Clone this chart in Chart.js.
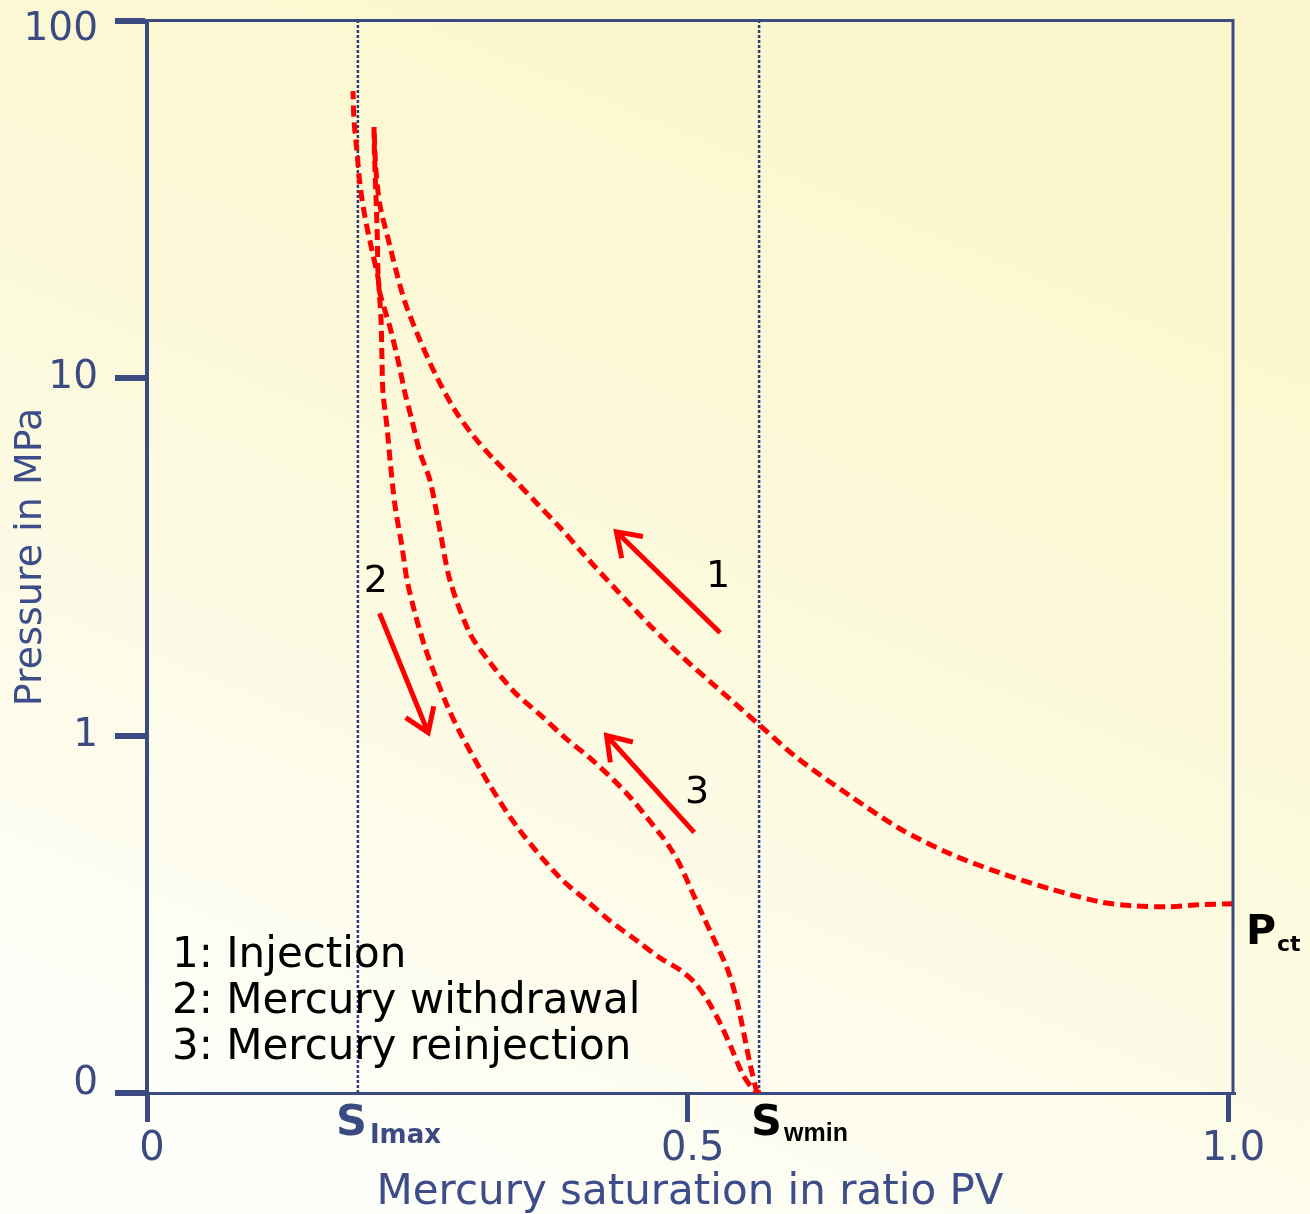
<!DOCTYPE html>
<html><head><meta charset="utf-8">
<script src="https://cdn.jsdelivr.net/npm/chart.js@4.4.1/dist/chart.umd.min.js"></script>
<style>html,body{margin:0;padding:0;background:#fdfbe6;}canvas{display:block;}</style>
</head><body>
<canvas id="c" width="1310" height="1214"></canvas>
<script>
// ---- axes ----
const xTicks = [0, 0.5, 1.0];
const xTickLabels = ['0', '0.5', '1.0'];
const yTicks = [0.1, 1, 10, 100];
const yTickLabels = ['0', '1', '10', '100'];
const xTitle = 'Mercury saturation in ratio PV';
const yTitle = 'Pressure in MPa';

// ---- curve 1: injection (from Pct up to max pressure) ----
const injectionX = [1.0042, 0.9736, 0.9431, 0.9117, 0.8812, 0.8349, 0.7887, 0.7425, 0.6963, 0.6500, 0.6010, 0.5650, 0.5270, 0.4956, 0.4651, 0.4346, 0.4031, 0.3819, 0.3606, 0.3403, 0.3199, 0.3014, 0.2848, 0.2681, 0.2524, 0.2386, 0.2302, 0.2228, 0.2154, 0.2117, 0.2099];
const injectionP = [0.3384, 0.3363, 0.3319, 0.3341, 0.3427, 0.3727, 0.4132, 0.4672, 0.5490, 0.6790, 0.8677, 1.080, 1.363, 1.654, 2.033, 2.548, 3.235, 3.825, 4.466, 5.179, 5.969, 6.924, 8.137, 10.06, 12.78, 16.33, 20.07, 24.67, 30.52, 38.24, 50.48];

// ---- curve 2: mercury withdrawal (from max pressure down) ----
const withdrawalX = [0.2099, 0.2105, 0.2120, 0.2130, 0.2136, 0.2164, 0.2173, 0.2182, 0.2219, 0.2247, 0.2293, 0.2358, 0.2404, 0.2478, 0.2570, 0.2681, 0.2783, 0.2894, 0.3172, 0.3449, 0.3819, 0.4068, 0.4281, 0.4531, 0.4743, 0.4928, 0.5067, 0.5187, 0.5298, 0.5400, 0.5502, 0.5603, 0.5668];
const withdrawalP = [50.48, 41.0, 30.7, 24.5, 19.8, 14.6, 11.3, 9.12, 7.32, 5.92, 4.410, 3.38, 2.73, 2.20, 1.77, 1.43, 1.20, 1.02, 0.7244, 0.5420, 0.4002, 0.3449, 0.3032, 0.2666, 0.2389, 0.2211, 0.2033, 0.1810, 0.1571, 0.1345, 0.1138, 0.1026, 0.1];

// ---- curve 3: mercury reinjection (from Swmin up) ----
const reinjectionX = [0.5640, 0.5576, 0.5520, 0.5455, 0.5363, 0.5206, 0.5049, 0.4928, 0.4836, 0.4743, 0.4438, 0.4124, 0.3865, 0.3634, 0.3403, 0.3172, 0.2987, 0.2802, 0.2709, 0.2617, 0.2524, 0.2450, 0.2386, 0.2321, 0.2247, 0.2154, 0.2136, 0.2080, 0.2016, 0.1970, 0.1942, 0.1914, 0.1905];
const reinjectionP = [0.1, 0.1206, 0.1463, 0.1810, 0.2239, 0.2843, 0.3609, 0.4351, 0.4857, 0.5313, 0.6880, 0.8511, 0.9872, 1.145, 1.319, 1.602, 1.930, 2.717, 3.751, 5.179, 6.202, 7.626, 9.078, 11.23, 13.89, 17.30, 19.18, 22.83, 28.25, 34.70, 42.95, 52.81, 63.65];

// ---- reference saturations ----
const sImax = 0.195;
const sWmin = 0.566;
const pct = 0.3384;

// ---- annotations ----
const legendLines = ['1: Injection', '2: Mercury withdrawal', '3: Mercury reinjection'];
const curveNumbers = ['1', '2', '3'];
const curveNumberX = [0.528, 0.2117, 0.5086];
const curveNumberP = [2.60, 2.52, 0.649];
const arrowTailX = [0.530, 0.215, 0.506];
const arrowTailP = [1.94, 2.20, 0.536];
const arrowTipX = [0.434, 0.260, 0.425];
const arrowTipP = [3.72, 1.02, 1.0];

const AXIS = '#3b4a80';
const TITLE = '#3c4d8a';
const RED = '#fe0000';

const pts = (xs, ys) => xs.map((x, i) => ({x, y: ys[i]}));

const curveStyle = {
  showLine: true, pointRadius: 0, borderColor: RED, borderWidth: 5,
  borderDash: [11, 6], borderCapStyle: 'butt', tension: 0.3, fill: false
};
const vStyle = {
  showLine: true, pointRadius: 0, borderColor: '#2b3a7a', borderWidth: 2.5,
  borderDash: [3, 2], tension: 0, fill: false
};

const bgPlugin = {
  id: 'bg',
  beforeDraw(chart) {
    const ctx = chart.ctx;
    const g = ctx.createLinearGradient(900, 0, 400, chart.height);
    g.addColorStop(0, '#fbf6cb');
    g.addColorStop(0.55, '#fcfadf');
    g.addColorStop(1, '#fefefb');
    ctx.save(); ctx.fillStyle = g; ctx.fillRect(0, 0, chart.width, chart.height); ctx.restore();
  }
};

function drawArrow(ctx, x1, y1, x2, y2) {
  const ang = Math.atan2(y2 - y1, x2 - x1);
  const L = 27, a = Math.PI * 0.19;
  ctx.beginPath();
  ctx.moveTo(x1, y1); ctx.lineTo(x2, y2);
  ctx.moveTo(x2 - L * Math.cos(ang - a), y2 - L * Math.sin(ang - a));
  ctx.lineTo(x2, y2);
  ctx.lineTo(x2 - L * Math.cos(ang + a), y2 - L * Math.sin(ang + a));
  ctx.stroke();
}

const annoPlugin = {
  id: 'anno',
  afterDraw(chart) {
    const ctx = chart.ctx, xs = chart.scales.x, ys = chart.scales.y, ca = chart.chartArea;
    ctx.save();
    // top and right frame
    ctx.strokeStyle = AXIS; ctx.lineWidth = 3;
    ctx.beginPath();
    ctx.moveTo(ca.left, ca.top - 0.5); ctx.lineTo(ca.right, ca.top - 0.5); ctx.lineTo(ca.right, ca.bottom);
    ctx.stroke();
    // arrows
    ctx.strokeStyle = RED; ctx.lineWidth = 5; ctx.lineJoin = 'miter'; ctx.lineCap = 'butt';
    for (let i = 0; i < arrowTailX.length; i++) {
      drawArrow(ctx, xs.getPixelForValue(arrowTailX[i]), ys.getPixelForValue(arrowTailP[i]),
                     xs.getPixelForValue(arrowTipX[i]), ys.getPixelForValue(arrowTipP[i]));
    }
    // curve numbers
    ctx.fillStyle = '#000'; ctx.font = '38px "DejaVu Sans"'; ctx.textAlign = 'center'; ctx.textBaseline = 'alphabetic';
    for (let i = 0; i < curveNumbers.length; i++) {
      ctx.fillText(curveNumbers[i], xs.getPixelForValue(curveNumberX[i]), ys.getPixelForValue(curveNumberP[i]));
    }
    // legend text
    ctx.textAlign = 'left'; ctx.font = '42px "DejaVu Sans"';
    legendLines.forEach((t, i) => ctx.fillText(t, ca.left + 25, ca.bottom - 126 + i * 46));
    // S_Imax
    let px = xs.getPixelForValue(sImax);
    ctx.fillStyle = AXIS;
    ctx.font = 'bold 43px "DejaVu Sans"'; ctx.fillText('S', px - 22, ca.bottom + 42);
    ctx.font = 'bold 26px "DejaVu Sans"'; ctx.fillText('Imax', px + 12, ca.bottom + 50);
    // S_wmin
    px = xs.getPixelForValue(sWmin);
    ctx.fillStyle = '#000';
    ctx.font = 'bold 43px "DejaVu Sans"'; ctx.fillText('S', px - 8, ca.bottom + 42);
    ctx.font = 'bold 25px "Liberation Sans"'; ctx.fillText('wmin', px + 25, ca.bottom + 48);
    // P_ct
    const ex = xs.getPixelForValue(injectionX[0]), ey = ys.getPixelForValue(pct);
    ctx.font = 'bold 41px "DejaVu Sans"'; ctx.fillText('P', ex + 13, ey + 40);
    ctx.font = 'bold 22px "DejaVu Sans"'; ctx.fillText('ct', ex + 44, ey + 47);
    ctx.restore();
  }
};

function zeroPad(s) { s.paddingTop = 0; s.paddingBottom = 0; s.paddingLeft = 0; s.paddingRight = 0; }

new Chart(document.getElementById('c'), {
  type: 'scatter',
  data: {
    datasets: [
      Object.assign({label: '1: Injection', data: pts(injectionX, injectionP)}, curveStyle),
      Object.assign({label: '2: Mercury withdrawal', data: pts(withdrawalX, withdrawalP)}, curveStyle),
      Object.assign({label: '3: Mercury reinjection', data: pts(reinjectionX, reinjectionP)}, curveStyle),
      Object.assign({label: 'S_Imax', data: [{x: sImax, y: 0.1}, {x: sImax, y: 100}]}, vStyle),
      Object.assign({label: 'S_wmin', data: [{x: sWmin, y: 0.1}, {x: sWmin, y: 100}]}, vStyle)
    ]
  },
  options: {
    responsive: false, animation: false, devicePixelRatio: 1,
    layout: {padding: {top: 21, right: 77, left: 0, bottom: 0}},
    plugins: {legend: {display: false}, tooltip: {enabled: false}},
    scales: {
      x: {
        type: 'linear', min: 0, max: 1.0042,
        afterBuildTicks: s => { s.ticks = xTicks.map(v => ({value: v})); },
        afterFit: s => { s.height = 121; zeroPad(s); },
        ticks: {
          callback: (v, i) => xTickLabels[i], color: AXIS, padding: 4, labelOffset: 5,
          font: {family: 'DejaVu Sans', size: 40}, maxRotation: 0, autoSkip: false
        },
        grid: {drawOnChartArea: false, drawTicks: true, tickLength: 29, tickWidth: 5, lineWidth: 5, tickColor: AXIS, color: AXIS},
        border: {display: true, color: AXIS, width: 3},
        title: {display: true, text: xTitle, color: TITLE, font: {family: 'DejaVu Sans', size: 42, lineHeight: 1}, padding: {top: 0, bottom: 0}}
      },
      y: {
        type: 'logarithmic', min: 0.1, max: 100,
        afterBuildTicks: s => { s.ticks = yTicks.map(v => ({value: v})); },
        afterFit: s => { s.width = 147; zeroPad(s); },
        ticks: {
          callback: (v) => {
            const i = yTicks.indexOf(v);
            const t = yTickLabels[i];
            if (i === yTicks.length - 1) return ['', t];
            if (i === 0) return [t, ''];
            return t;
          },
          color: AXIS, padding: 17, autoSkip: false,
          font: {family: 'DejaVu Sans', size: 39, lineHeight: '18px'}
        },
        grid: {drawOnChartArea: false, drawTicks: true, tickLength: 32, tickWidth: 6, lineWidth: 6, tickColor: AXIS, color: AXIS},
        border: {display: true, color: AXIS, width: 4},
        title: {display: true, text: yTitle, color: TITLE, font: {family: 'DejaVu Sans', size: 38, lineHeight: 1}, padding: {top: 12, bottom: 0}}
      }
    }
  },
  plugins: [bgPlugin, annoPlugin]
});
</script>
</body></html>
